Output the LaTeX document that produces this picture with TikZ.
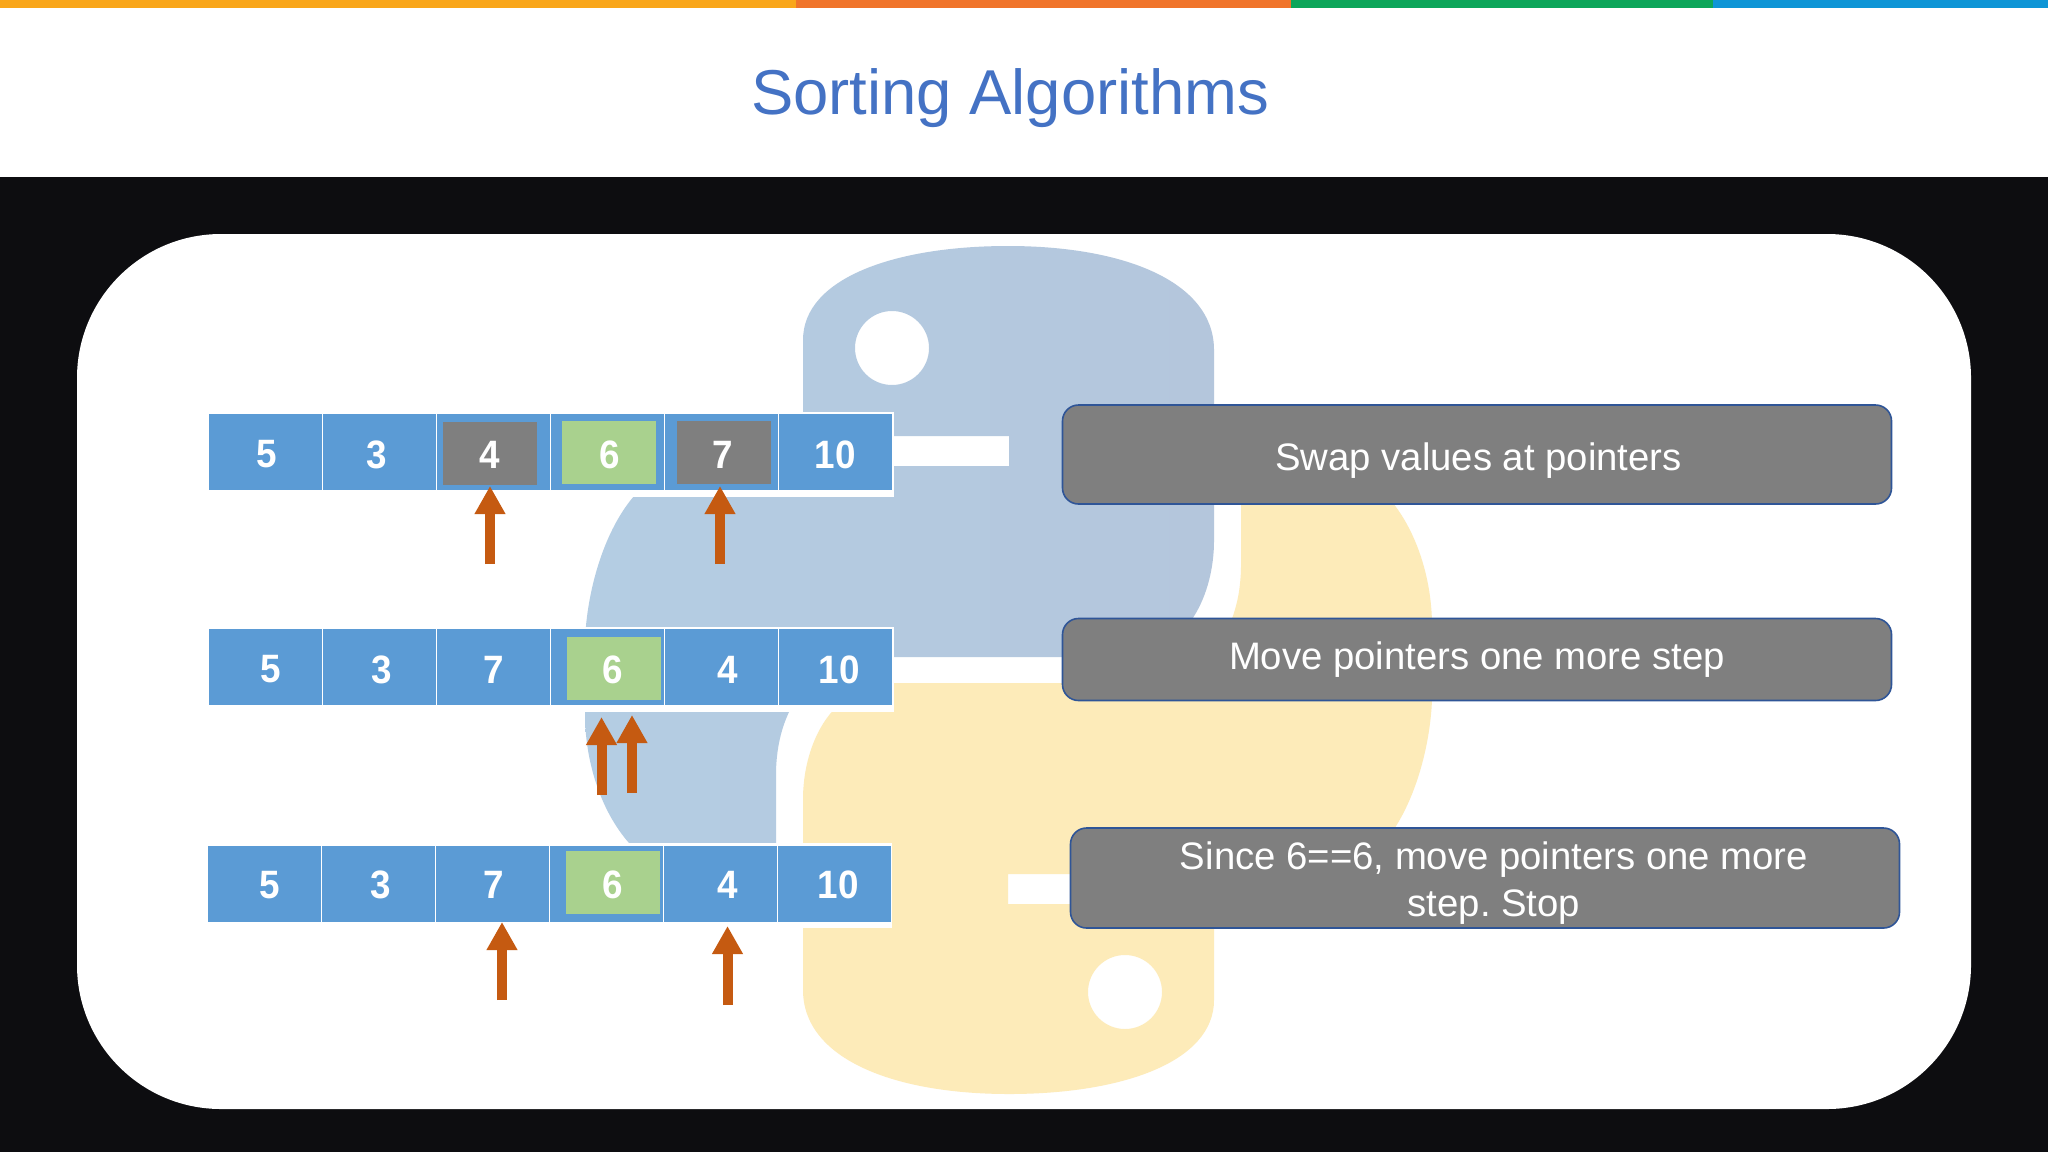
\documentclass[tikz,border=0pt]{standalone}
\usepackage{fontspec}
\setmainfont{Liberation Sans}
\newfontfamily\digitfont[FakeStretch=0.93]{Liberation Sans}
\frenchspacing
\usetikzlibrary{arrows.meta,positioning}
\definecolor{barA}{HTML}{F9A61A}
\definecolor{barB}{HTML}{F0742A}
\definecolor{barC}{HTML}{0DA65A}
\definecolor{barD}{HTML}{0E95D6}
\definecolor{frameblack}{HTML}{0D0D10}
\definecolor{titleblue}{HTML}{4472C4}
\definecolor{cellblue}{HTML}{5B9BD5}
\definecolor{cellgreen}{HTML}{A9D18E}
\definecolor{cellgray}{HTML}{7F7F7F}
\definecolor{arrowor}{HTML}{C55A11}
\definecolor{boxline}{HTML}{2F5597}
\definecolor{pyblueL}{HTML}{B4CDE3}
\definecolor{pyblueR}{HTML}{B4C6DC}
\definecolor{pyyellow}{HTML}{FDEBB9}
\tikzset{
  x=0.5pt,y=-0.5pt,
  cell/.style={fill=cellblue,draw=none,minimum width=56.5pt,minimum height=38pt,inner sep=0pt,anchor=north west},
  inner box/.style={draw=none,minimum width=47pt,minimum height=31.5pt,inner sep=0pt},
  digit/.style={text=white,font=\fontsize{19.8pt}{20pt}\digitfont\bfseries,inner sep=0pt},
  ptr/.style={draw=arrowor,line width=5pt,-{Triangle[width=14.5pt,length=14pt]}},
  note/.style={fill=cellgray,draw=boxline,line width=0.8pt,rounded corners=8pt,inner sep=0pt},
  notetext/.style={text=white,align=center,font=\fontsize{19.15pt}{23.5pt}\selectfont,inner sep=0pt},
}
\newcommand{\pysnake}{%
  (803,340) .. controls (803,278) and (895,246) .. (1008,246)
  .. controls (1125,246) and (1214,282) .. (1214,350)
  -- (1214,541) .. controls (1214,590) and (1190,657) .. (1120,657)
  -- (880,657) .. controls (810,657) and (776,710) .. (776,775)
  -- (776,843) -- (629,843) .. controls (600,810) and (585,760) .. (585,714)
  -- (585,640) .. controls (588,570) and (620,480) .. (680,466)
  -- (1009,466) -- (1009,436) -- (803,436) -- cycle}
\begin{document}
\begin{tikzpicture}
\useasboundingbox (0,0) rectangle (2048,1152);
\fill[white] (0,0) rectangle (2048,1152);
\fill[barA] (0,0) rectangle (796,8);
\fill[barB] (796,0) rectangle (1291,8);
\fill[barC] (1291,0) rectangle (1713,8);
\fill[barD] (1713,0) rectangle (2048,8);
\fill[frameblack] (0,177) rectangle (2048,1152);
\fill[white,rounded corners=72pt] (77,234) rectangle (1971,1109);
\node[text=titleblue,font=\fontsize{31.7pt}{36pt}\selectfont,inner sep=0pt] (title) at (1010,98) {Sorting Algorithms};
% logo
\shade[left color=pyblueL,right color=pyblueR,even odd rule] \pysnake (929,348) arc[start angle=0,end angle=360,radius=37];
\begin{scope}[rotate around={180:(1008.5,670)}]
\fill[pyyellow,even odd rule] \pysnake (929,348) arc[start angle=0,end angle=360,radius=37];
\end{scope}
% row backing
\fill[white] (207,412) rectangle (894,497);
\fill[white] (207,627) rectangle (894,712);
\fill[white] (206,843) rectangle (892,928);
% row 1
\foreach \n/\x in {a/209,b/323,c/437,d/551,e/665,f/779}{\node[cell] (r1\n) at (\x,414) {};}
\node[inner box,fill=cellgray] (r1g1) at (490,453.5) {};
\node[inner box,fill=cellgreen] (r1g2) at (609,452.5) {};
\node[inner box,fill=cellgray] (r1g3) at (723.5,452.5) {};
\foreach \n/\x/\t in {a/267/5,b/377/3,c/490/4,d/610/6,e/723/7,f/835/10}{\node[digit] (t1\n) at (\x,454.5) {\t};}
% row 2
\foreach \n/\x in {a/209,b/323,c/437,d/551,e/665,f/779}{\node[cell] (r2\n) at (\x,629) {};}
\node[inner box,fill=cellgreen] (r2g) at (613.5,668) {};
\foreach \n/\x/\t in {a/271/5,b/382/3,c/494/7,d/613/6,e/727.5/4,f/839/10}{\node[digit] (t2\n) at (\x,669.5) {\t};}
% row 3
\foreach \n/\x in {a/208,b/322,c/436,d/550,e/664,f/778}{\node[cell] (r3\n) at (\x,846) {};}
\node[inner box,fill=cellgreen] (r3g) at (613,882.5) {};
\foreach \n/\x/\t in {a/270/5,b/381/3,c/494/7,d/613/6,e/727.5/4,f/838/10}{\node[digit] (t3\n) at (\x,885) {\t};}
% pointers
\coordinate (p1s) at (490,564); \coordinate (p1e) at (490,486);
\coordinate (p2s) at (720,564); \coordinate (p2e) at (720,486);
\coordinate (p3s) at (601.5,795); \coordinate (p3e) at (601.5,717);
\coordinate (p4s) at (632,793); \coordinate (p4e) at (632,715);
\coordinate (p5s) at (502,1000); \coordinate (p5e) at (502,922);
\coordinate (p6s) at (727.5,1005); \coordinate (p6e) at (727.5,926);
\foreach \i in {1,...,6}{\draw[ptr] (p\i s) -- (p\i e);}
% notes
\node[note,minimum width=414.5pt,minimum height=49.5pt] (n1) at (1477,454.5) {};
\node[notetext] (n1t) at (1478.5,460.5) {Swap values at pointers};
\node[note,minimum width=414.5pt,minimum height=41pt] (n2) at (1477,659.5) {};
\node[notetext] (n2t) at (1477,660) {Move pointers one more step};
\node[note,minimum width=414.5pt,minimum height=50pt] (n3) at (1485,878) {};
\node[notetext] (n3t) at (1494,883) {Since 6==6, move pointers one more\\step. Stop};
\end{tikzpicture}
\end{document}
